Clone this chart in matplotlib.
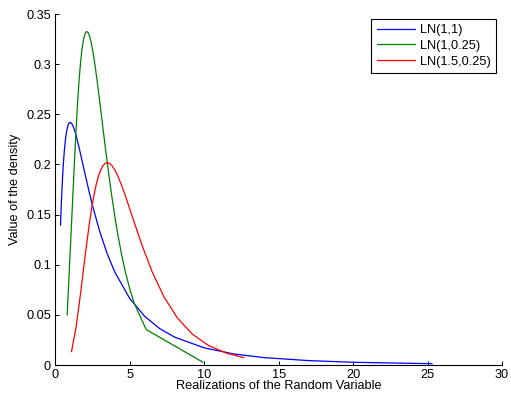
import matplotlib
matplotlib.use("Agg")
import matplotlib.pyplot as plt

plt.rcParams["font.family"] = ["Liberation Sans", "DejaVu Sans"]

# ── data ────────────────────────────────────────────────────
ln_1_1_x = [0.35, 0.4, 0.45, 0.5, 0.55, 0.62, 0.7, 0.78, 0.85, 0.92, 1.0, 1.1,
            1.2, 1.3, 1.4, 1.55, 1.7, 2.0, 2.25, 2.5, 3.0, 3.5, 4.0, 5.0, 6.0,
            7.0, 8.0, 10, 12, 14, 17, 20, 25.3]
ln_1_1_y = [0.1395, 0.1590, 0.1759, 0.1903, 0.2024, 0.2158, 0.2270, 0.2346,
            0.2388, 0.2411, 0.2420, 0.2409, 0.2380, 0.2338, 0.2287, 0.2198,
            0.2102, 0.1903, 0.1742, 0.1590, 0.1323, 0.1104, 0.0926, 0.0663,
            0.0486, 0.0364, 0.0279, 0.0171, 0.0110, 0.0074, 0.0044, 0.0027,
            0.0013]

ln_1_025_x = [0.8, 1.3, 1.4, 1.5, 1.6, 1.7, 1.8, 1.9, 2.0, 2.1, 2.2, 2.3, 2.4,
              2.5, 2.65, 2.8, 2.95, 3.1, 3.25, 3.4, 3.6, 3.8, 4.0, 4.2, 4.45,
              4.7, 5.0, 5.3, 6.1, 9.9]
ln_1_025_y = [0.0500, 0.2068, 0.2363, 0.2623, 0.2843, 0.3021, 0.3156, 0.3249,
              0.3305, 0.3326, 0.3316, 0.3281, 0.3223, 0.3147, 0.3007, 0.2845,
              0.2669, 0.2487, 0.2303, 0.2123, 0.1893, 0.1678, 0.1480, 0.1301,
              0.1103, 0.0932, 0.0759, 0.0617, 0.0354, 0.0029]

ln_15_025_x = [1.09, 1.4, 1.7, 2.0, 2.3, 2.45, 2.6, 2.75, 2.9, 3.0, 3.2, 3.35,
               3.5, 3.65, 3.8, 4.0, 4.2, 4.45, 4.7, 5.2, 5.8, 6.5, 7.3, 8.2,
               9.2, 10.3, 11.5, 12.64]
ln_15_025_y = [0.0134, 0.0380, 0.0717, 0.1085, 0.1425, 0.1570, 0.1696, 0.1801,
               0.1884, 0.1927, 0.1987, 0.2011, 0.2017, 0.2009, 0.1988, 0.1944,
               0.1884, 0.1793, 0.1690, 0.1468, 0.1204, 0.0931, 0.0679, 0.0469,
               0.0308, 0.0194, 0.0118, 0.0074]

labels = ["LN(1,1)", "LN(1,0.25)", "LN(1.5,0.25)"]

x_ticks = [0, 5, 10, 15, 20, 25, 30]
y_ticks = [0, 0.05, 0.1, 0.15, 0.2, 0.25, 0.3, 0.35]
y_tick_labels = ["0", "0.05", "0.1", "0.15", "0.2", "0.25", "0.3", "0.35"]

FS = 9.2

# ── figure ──────────────────────────────────────────────────
fig = plt.figure(figsize=(5.11, 3.98), dpi=100)
ax = fig.add_axes([0.1082, 0.0829, 0.8742, 0.8819])

ax.plot(ln_1_1_x, ln_1_1_y, color="#0000ff", lw=0.9, label=labels[0])
ax.plot(ln_1_025_x, ln_1_025_y, color="#008000", lw=0.9, label=labels[1])
ax.plot(ln_15_025_x, ln_15_025_y, color="#ff0000", lw=0.9, label=labels[2])

ax.set_xlim(0, 30)
ax.set_ylim(0, 0.35)
ax.set_xticks(x_ticks)
ax.set_yticks(y_ticks)
ax.set_yticklabels(y_tick_labels)
ax.tick_params(direction="in", length=3, width=0.7, labelsize=FS,
               pad=3, colors="black")

for side in ("top", "right"):
    ax.spines[side].set_visible(False)
for side in ("left", "bottom"):
    ax.spines[side].set_linewidth(0.8)

ax.set_xlabel("Realizations of the Random Variable", fontsize=FS, labelpad=-1)
ax.set_ylabel("Value of the density", fontsize=FS, labelpad=4)

leg = ax.legend(loc="upper right", bbox_to_anchor=(0.9706, 0.9523),
                bbox_transform=fig.transFigure, fontsize=FS,
                fancybox=False, framealpha=1, edgecolor="black",
                handlelength=3.0, handletextpad=0.4, borderpad=0.4,
                labelspacing=0.3, borderaxespad=0)
leg.get_frame().set_linewidth(0.8)

fig.savefig("out.png", dpi=100)
